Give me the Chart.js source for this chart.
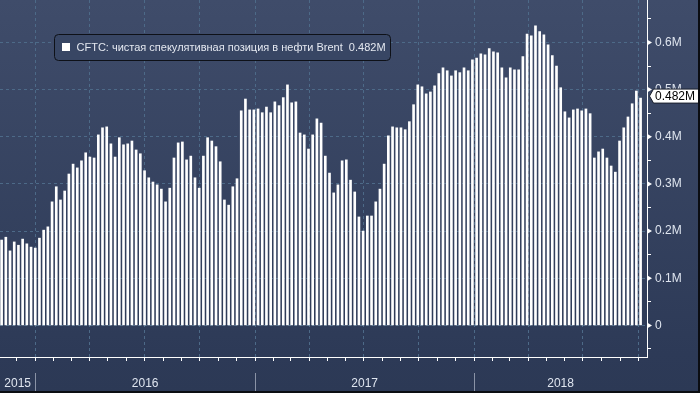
<!DOCTYPE html>
<html>
<head>
<meta charset="utf-8">
<script src="https://cdn.jsdelivr.net/npm/chart.js@4.4.1/dist/chart.umd.min.js"></script>
<style>
html, body { margin: 0; padding: 0; background: #2d3a56; }
#wrap { width: 700px; height: 393px; position: relative; }
</style>
</head>
<body>
<div id="wrap"><canvas id="cftcChart"></canvas></div>
<script>
// weekly net speculative position, thousands of contracts
const firstWeek = [2015, 10, 6];
const netLong = [
    181, 187, 158, 177, 170, 183, 173, 166, 164, 185,
    202, 209, 262, 294, 266, 285, 321, 342, 334, 349,
    366, 357, 355, 404, 419, 421, 385, 357, 398, 383,
    385, 391, 372, 364, 328, 313, 304, 298, 289, 262,
    291, 355, 387, 389, 351, 359, 313, 291, 359, 398,
    391, 379, 347, 266, 255, 294, 311, 455, 480, 457,
    457, 459, 451, 463, 451, 474, 466, 483, 510, 472,
    474, 408, 404, 374, 404, 438, 429, 359, 323, 281,
    298, 349, 351, 308, 283, 230, 200, 232, 232, 262,
    289, 342, 402, 421, 419, 419, 415, 432, 468, 510,
    506, 491, 495, 508, 534, 546, 540, 529, 540, 536,
    546, 540, 563, 567, 576, 574, 587, 580, 578, 546,
    525, 546, 542, 542, 570, 618, 614, 635, 623, 616,
    595, 572, 550, 504, 453, 440, 457, 459, 455, 459,
    449, 355, 368, 374, 355, 338, 325, 391, 419, 442,
    470, 497, 482
];
const yTicks = [-50, 0, 50, 100, 150, 200, 250, 300, 350, 400, 450, 500, 550, 600, 650];
const years = [2015, 2016, 2017, 2018];
const seriesName = 'CFTC: чистая спекулятивная позиция в нефти Brent';
const lastLabel = '0.482M';

const DAY = 864e5;
const origin = Date.UTC(2016, 0, 1);
function dayOf(y, m, d) {
    return (Date.UTC(y, m, d) - origin) / DAY;
}
const start = dayOf(firstWeek[0], firstWeek[1], firstWeek[2]);
const points = netLong.map((v, i) => ({ x: start + i * 7, y: v }));

const xMin = -58.7;
const xMax = 1018.7;
const gridColor = '#4d6a88';
const textColor = '#dfe5ef';
const font = "'Liberation Sans', Arial, sans-serif";

function isQuarter(day) {
    return new Date(origin + day * DAY).getUTCMonth() % 3 === 0;
}
function isMajor(c) {
    return c.tick && c.tick.value % 100 === 0 && c.tick.value >= 0;
}

// background gradient
const backdrop = {
    id: 'backdrop',
    beforeDraw(chart) {
        const ctx = chart.ctx;
        const g = ctx.createLinearGradient(0, 0, 0, chart.height);
        g.addColorStop(0, '#3f4c6a');
        g.addColorStop(0.9, '#2d3a57');
        g.addColorStop(1, '#2c3955');
        ctx.save();
        ctx.fillStyle = g;
        ctx.fillRect(0, 0, chart.width, chart.height);
        ctx.restore();
    }
};

// year labels, tick arrows, legend box, last value tag
const decorations = {
    id: 'decorations',
    afterDraw(chart) {
        const ctx = chart.ctx;
        const xs = chart.scales.x;
        const ys = chart.scales.y;
        const area = chart.chartArea;
        ctx.save();

        // year separators + labels
        ctx.font = '12px ' + font;
        ctx.fillStyle = textColor;
        ctx.textAlign = 'center';
        ctx.textBaseline = 'middle';
        years.forEach(y => {
            const a = Math.max(dayOf(y, 0, 1), xMin);
            const b = Math.min(dayOf(y + 1, 0, 1), xMax);
            const px = (xs.getPixelForValue(a) + xs.getPixelForValue(b)) / 2;
            ctx.fillText(String(y), px, 384);
            if (dayOf(y, 0, 1) > xMin) {
                const sx = Math.round(xs.getPixelForValue(dayOf(y, 0, 1))) + 0.5;
                ctx.strokeStyle = '#8a93a6';
                ctx.lineWidth = 1;
                ctx.beginPath();
                ctx.moveTo(sx, 373);
                ctx.lineTo(sx, 393);
                ctx.stroke();
            }
        });

        // arrow marks on major y ticks
        ctx.fillStyle = '#ffffff';
        yTicks.forEach(v => {
            if (v % 100 !== 0 || v < 0) return;
            const py = ys.getPixelForValue(v);
            ctx.beginPath();
            ctx.moveTo(area.right, py - 3);
            ctx.lineTo(area.right + 5, py);
            ctx.lineTo(area.right, py + 3);
            ctx.closePath();
            ctx.fill();
        });

        // legend box
        ctx.beginPath();
        ctx.roundRect(54.5, 34.5, 336, 26, 4);
        ctx.fillStyle = '#384664';
        ctx.fill();
        ctx.strokeStyle = '#0e1118';
        ctx.lineWidth = 1;
        ctx.stroke();
        ctx.fillStyle = '#ffffff';
        ctx.fillRect(62, 43, 8, 8);
        ctx.font = '11px ' + font;
        ctx.fillStyle = '#e4e8f0';
        ctx.textAlign = 'left';
        ctx.fillText(seriesName + '  ' + lastLabel, 76.5, 47.5);

        // last value tag
        const vy = ys.getPixelForValue(netLong[netLong.length - 1]) - 2;
        ctx.beginPath();
        ctx.moveTo(area.right + 2.5, vy);
        ctx.lineTo(653.5, vy - 7);
        ctx.lineTo(699.5, vy - 7);
        ctx.lineTo(699.5, vy + 7);
        ctx.lineTo(653.5, vy + 7);
        ctx.closePath();
        ctx.fillStyle = '#ffffff';
        ctx.fill();
        ctx.strokeStyle = '#1a1f2b';
        ctx.stroke();
        ctx.font = '12px ' + font;
        ctx.fillStyle = '#000000';
        ctx.fillText(lastLabel, 655, vy + 0.5);

        // outer frame
        ctx.fillStyle = '#0b0d12';
        ctx.fillRect(698, 0, 2, 393);
        ctx.fillRect(0, 391, 700, 2);
        ctx.restore();
    }
};

const ctx = document.getElementById('cftcChart').getContext('2d');
new Chart(ctx, {
    type: 'bar',
    data: {
        datasets: [{
            label: seriesName,
            data: points,
            backgroundColor: '#ffffff',
            borderWidth: 0,
            barThickness: 2
        }]
    },
    options: {
        responsive: true,
        maintainAspectRatio: false,
        animation: false,
        devicePixelRatio: 1,
        layout: { padding: 0 },
        plugins: {
            legend: { display: false },
            tooltip: { enabled: false }
        },
        scales: {
            x: {
                type: 'linear',
                min: xMin,
                max: xMax,
                offset: false,
                afterBuildTicks(scale) {
                    const ticks = [];
                    for (let y = 2015; y <= 2018; y++) {
                        for (let m = 0; m < 12; m++) {
                            const d = dayOf(y, m, 1);
                            if (d > xMin && d < xMax) ticks.push({ value: d });
                        }
                    }
                    scale.ticks = ticks;
                },
                afterFit(scale) {
                    scale.height = 36;
                    scale.paddingLeft = 0;
                    scale.paddingRight = 0;
                },
                ticks: { display: false },
                grid: {
                    offset: false,
                    color: c => (c.tick && isQuarter(c.tick.value)) ? gridColor : 'rgba(0,0,0,0)',
                    tickColor: '#ffffff',
                    tickLength: 4,
                    drawTicks: true
                },
                border: { display: true, color: '#ffffff', width: 1, dash: [3, 3] }
            },
            y: {
                position: 'right',
                min: -67,
                max: 690,
                afterBuildTicks(scale) {
                    scale.ticks = yTicks.map(v => ({ value: v }));
                },
                afterFit(scale) {
                    scale.width = 53;
                    scale.paddingTop = 0;
                    scale.paddingBottom = 0;
                },
                ticks: {
                    color: textColor,
                    font: { family: font, size: 12 },
                    padding: 4,
                    callback: v => {
                        if (v % 100 !== 0 || v < 0) return '';
                        return v === 0 ? '0' : (v / 1000) + 'M';
                    }
                },
                grid: {
                    color: c => isMajor(c) ? gridColor : 'rgba(0,0,0,0)',
                    tickColor: c => isMajor(c) ? 'rgba(0,0,0,0)' : '#ffffff',
                    tickLength: 4,
                    drawTicks: true
                },
                border: { display: true, color: '#ffffff', width: 1, dash: [3, 3] }
            }
        }
    },
    plugins: [backdrop, decorations]
});
</script>
</body>
</html>
